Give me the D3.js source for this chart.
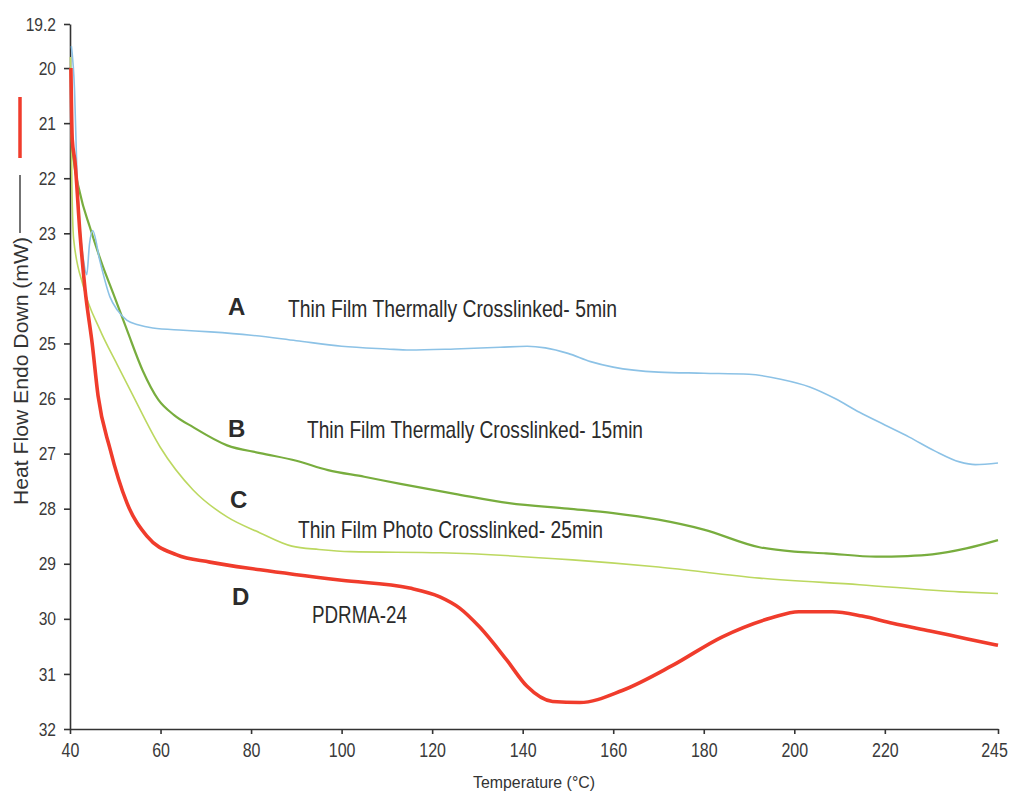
<!DOCTYPE html>
<html lang="en">
<head>
    <meta charset="UTF-8">
    <title>DSC heat flow</title>
    <script src="https://d3js.org/d3.v7.min.js"></script>
    <style>
        body { margin: 0; background: #fff; }
        svg { display: block; }
        text { font-family: "Liberation Sans", Arial, sans-serif; }
    </style>
</head>
<body>
    <svg></svg>
    <script>
        const width = 1013;
        const height = 791;

        // x ticks / y ticks as printed
        const xTicks = [40, 60, 80, 100, 120, 140, 160, 180, 200, 220, 245];
        const yTicks = [19.2, 20, 21, 22, 23, 24, 25, 26, 27, 28, 29, 30, 31, 32];

        // A - thermally crosslinked 5 min (blue)
        const tempA = [40.3, 41.0, 41.5, 42.2, 43.0, 43.7, 44.3, 45.0, 46.6, 48.8, 50.5, 52.6, 55, 58.3, 65, 71, 80, 90, 100, 110, 115, 125, 135, 141, 145, 150, 155, 160, 170, 180, 190, 197, 203.4, 209, 214.4, 220, 225.4, 231, 236.5, 240, 245];
        const heatA = [19.6, 20.4, 21.8, 22.9, 23.5, 23.75, 23.2, 22.95, 23.5, 24.15, 24.4, 24.58, 24.66, 24.72, 24.76, 24.79, 24.85, 24.95, 25.05, 25.1, 25.12, 25.1, 25.07, 25.05, 25.08, 25.18, 25.33, 25.43, 25.52, 25.54, 25.56, 25.65, 25.79, 26.0, 26.25, 26.48, 26.7, 26.95, 27.15, 27.2, 27.17];

        // B - thermally crosslinked 15 min (green)
        const tempB = [40.3, 40.6, 42.2, 44.4, 47.3, 49.5, 52.6, 56.1, 59.5, 63, 67.2, 74.7, 82, 90, 97, 105, 113, 125, 137, 150, 160, 170, 180, 192.3, 200, 207, 218, 225, 230.5, 238, 245];
        const heatB = [21.2, 21.5, 22.27, 22.89, 23.61, 24.08, 24.76, 25.5, 26.02, 26.3, 26.52, 26.85, 26.99, 27.13, 27.3, 27.42, 27.55, 27.73, 27.9, 28.0, 28.08, 28.2, 28.38, 28.7, 28.78, 28.81, 28.87, 28.86, 28.83, 28.72, 28.57];

        // C - photo crosslinked 25 min (yellow green)
        const tempC = [40.1, 40.4, 40.8, 42.9, 46.6, 50.4, 53.5, 59.9, 67.2, 74.7, 82, 89, 95, 102, 122, 151, 170, 192.3, 214.4, 236.5, 245];
        const heatC = [19.8, 22.0, 23.1, 23.95, 24.75, 25.38, 25.88, 26.88, 27.66, 28.15, 28.44, 28.68, 28.74, 28.78, 28.8, 28.93, 29.06, 29.26, 29.38, 29.51, 29.54];

        // D - PDRMA-24 (red)
        const tempD = [40.2, 40.5, 41.1, 42.2, 43.3, 44.9, 46.2, 48.8, 52.6, 57, 63.6, 70.9, 82, 100, 115, 121.7, 126, 130.5, 136.5, 140.9, 146.6, 152.6, 162, 173, 184, 195, 201, 208.4, 215, 221.7, 230, 238, 245];
        const heatD = [20.0, 21.3, 21.7, 23.0, 24.0, 25.0, 25.95, 26.9, 27.9, 28.5, 28.84, 28.97, 29.11, 29.3, 29.44, 29.6, 29.8, 30.15, 30.75, 31.22, 31.5, 31.52, 31.3, 30.85, 30.33, 29.98, 29.87, 29.87, 29.95, 30.08, 30.22, 30.36, 30.48];

        const svg = d3.select("svg")
            .attr("width", width)
            .attr("height", height);

        const x = d3.scaleLinear().domain([40, 245]).range([70, 998]);
        const y = d3.scaleLinear().domain([19.2, 32]).range([24, 729]);

        // squeeze text horizontally (the source font is a narrow face)
        function narrow(sel, k) {
            sel.each(function() {
                const w = this.getComputedTextLength();
                d3.select(this)
                    .attr("textLength", w * k)
                    .attr("lengthAdjust", "spacingAndGlyphs");
            });
        }

        // y axis
        const gy = svg.append("g")
            .attr("transform", "translate(70,0)")
            .call(d3.axisLeft(y).tickValues(yTicks).tickFormat(d => d).tickSize(6).tickSizeOuter(0).tickPadding(8));
        gy.selectAll("text").attr("font-size", 19).attr("fill", "#3a3a3a").call(narrow, 0.82);

        // x axis
        const gx = svg.append("g")
            .attr("transform", "translate(0,729)")
            .call(d3.axisBottom(x).tickValues(xTicks).tickSize(5).tickSizeOuter(0).tickPadding(9));
        gx.selectAll("text").attr("font-size", 20).attr("fill", "#3a3a3a").call(narrow, 0.8);
        // last label sits against the right edge; keep it inside
        gx.selectAll(".tick").filter(d => d === 245).select("text").attr("x", -4);

        svg.selectAll(".domain, .tick line").attr("stroke", "#333").attr("stroke-width", 1.6);

        const line = d3.line()
            .x(d => x(d[0]))
            .y(d => y(d[1]))
            .curve(d3.curveMonotoneX);

        const series = [
            {t: tempC, v: heatC, color: "#bcd860", w: 1.6},
            {t: tempB, v: heatB, color: "#78ad3e", w: 2.2},
            {t: tempA, v: heatA, color: "#8cc2e6", w: 1.6},
            {t: tempD, v: heatD, color: "#f03c2c", w: 3.6}
        ];

        svg.append("g").selectAll("path")
            .data(series)
            .join("path")
                .attr("d", s => line(s.t.map((t, i) => [t, s.v[i]])))
                .attr("fill", "none")
                .attr("stroke", s => s.color)
                .attr("stroke-width", s => s.w)
                .attr("stroke-linejoin", "round");

        // curve annotations
        const notes = [
            {k: "A", kx: 228, ky: 315, text: "Thin Film Thermally Crosslinked- 5min", tx: 288, ty: 317, tw: 329},
            {k: "B", kx: 228, ky: 437, text: "Thin Film Thermally Crosslinked- 15min", tx: 307, ty: 438, tw: 336},
            {k: "C", kx: 230, ky: 508, text: "Thin Film Photo Crosslinked- 25min", tx: 298, ty: 538, tw: 305},
            {k: "D", kx: 232, ky: 605, text: "PDRMA-24", tx: 312, ty: 623, tw: 95}
        ];
        const ng = svg.append("g").attr("fill", "#2b2b2b");
        notes.forEach(n => {
            ng.append("text")
                .attr("x", n.kx).attr("y", n.ky)
                .attr("font-weight", "bold")
                .attr("font-size", 24)
                .text(n.k);
            ng.append("text")
                .attr("x", n.tx).attr("y", n.ty)
                .attr("font-size", 24)
                .attr("textLength", n.tw)
                .attr("lengthAdjust", "spacingAndGlyphs")
                .text(n.text);
        });

        // axis titles
        svg.append("text")
            .attr("x", 473).attr("y", 788)
            .attr("font-size", 17)
            .attr("textLength", 122)
            .attr("lengthAdjust", "spacingAndGlyphs")
            .attr("fill", "#333")
            .text("Temperature (°C)");

        svg.append("text")
            .attr("transform", "translate(28,505) rotate(-90)")
            .attr("font-size", 21)
            .attr("textLength", 268)
            .attr("lengthAdjust", "spacingAndGlyphs")
            .attr("fill", "#333")
            .text("Heat Flow Endo Down (mW)");

        // legend strokes beside the y title
        svg.append("line")
            .attr("x1", 20).attr("x2", 20).attr("y1", 97).attr("y2", 158)
            .attr("stroke", "#f03c2c").attr("stroke-width", 3.5);
        svg.append("line")
            .attr("x1", 20).attr("x2", 20).attr("y1", 175).attr("y2", 233)
            .attr("stroke", "#444").attr("stroke-width", 1.5);
    </script>
</body>
</html>
